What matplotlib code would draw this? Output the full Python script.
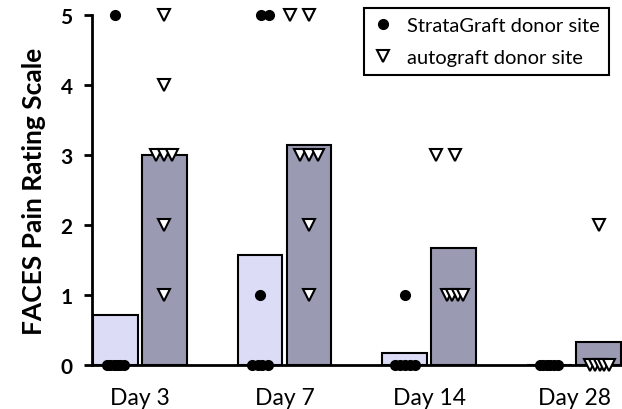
import numpy as np
import matplotlib
matplotlib.use('Agg')
import matplotlib.pyplot as plt
from matplotlib.lines import Line2D

plt.rcParams['font.family'] = ['Lato', 'DejaVu Sans']

# FACES pain scores per patient, per visit
days = ['Day 3', 'Day 7', 'Day 14', 'Day 28']
strata = [[5, 0, 0, 0, 0, 0, 0],
          [5, 5, 1, 0, 0, 0, 0],
          [1, 0, 0, 0, 0, 0],
          [0, 0, 0, 0, 0, 0]]
auto = [[5, 4, 3, 3, 3, 2, 1],
        [5, 5, 3, 3, 3, 2, 1],
        [3, 3, 1, 1, 1, 1],
        [2, 0, 0, 0, 0, 0]]

# horizontal scatter of the points inside each bar
strata_jit = [[0, -0.059, -0.034, -0.010, 0.010, 0.034, 0.059],
              [0.010, 0.059, 0, -0.052, -0.017, 0.017, 0.052],
              [0, -0.069, -0.034, 0, 0.034, 0.069],
              [-0.069, -0.044, -0.019, 0.006, 0.031, 0.055]]
auto_jit = [[0, 0, -0.055, 0, 0.055, 0, 0],
            [-0.134, 0.003, -0.062, 0, 0.062, 0, 0],
            [-0.124, 0.007, -0.048, -0.014, 0.028, 0.062],
            [0, -0.059, -0.026, 0.007, 0.040, 0.072]]

light = '#dcdcf6'
dark = '#9a9ab2'
bw = 0.31
off = 0.338

x = np.arange(len(days))
m_strata = [np.mean(v) for v in strata]
m_auto = [np.mean(v) for v in auto]

fig = plt.figure(figsize=(6.22, 4.10), dpi=100)
ax = fig.add_axes([0.148, 0.107, 0.852, 0.854])

ax.bar(x, m_strata, bw, color=light, edgecolor='k', linewidth=1.5, zorder=2)
ax.bar(x + off, m_auto, bw, color=dark, edgecolor='k', linewidth=1.5, zorder=2)

for i in range(len(days)):
    xs = i + np.array(strata_jit[i])
    ax.plot(xs, strata[i], 'o', color='k', ms=7, clip_on=False, zorder=4)
    xa = i + off + np.array(auto_jit[i])
    ax.plot(xa, auto[i], 'v', mfc='white', mec='k', mew=1.5, ms=8,
            clip_on=False, zorder=4)

ax.set_xlim(-0.16, 3.5)
ax.set_ylim(0, 5)
ax.set_yticks(range(6))
ax.set_yticklabels([str(k) for k in range(6)], fontweight='bold', fontsize=15)
ax.set_xticks(x + off / 2)
ax.set_xticklabels(days, fontsize=16.5)
ax.tick_params(axis='x', length=0, pad=16)
ax.tick_params(axis='y', length=6, width=2, pad=8)
ax.spines['top'].set_visible(False)
ax.spines['right'].set_visible(False)
ax.spines['left'].set_linewidth(2)
ax.spines['bottom'].set_linewidth(2)
ax.set_ylabel('FACES Pain Rating Scale', fontweight='bold', fontsize=19, labelpad=10)

handles = [Line2D([], [], ls='none', marker='o', color='k', ms=7),
           Line2D([], [], ls='none', marker='v', mfc='white', mec='k', mew=1.5, ms=8)]
leg = ax.legend(handles, ['StrataGraft donor site', 'autograft donor site'],
                loc='upper right', bbox_to_anchor=(0.995, 1.05), fontsize=14.5,
                fancybox=False, framealpha=1, edgecolor='k', labelspacing=0.75,
                handletextpad=0.7, borderpad=0.45, handlelength=1.0)
leg.get_frame().set_linewidth(1.5)

plt.savefig('out.png', dpi=100)
plt.close()
